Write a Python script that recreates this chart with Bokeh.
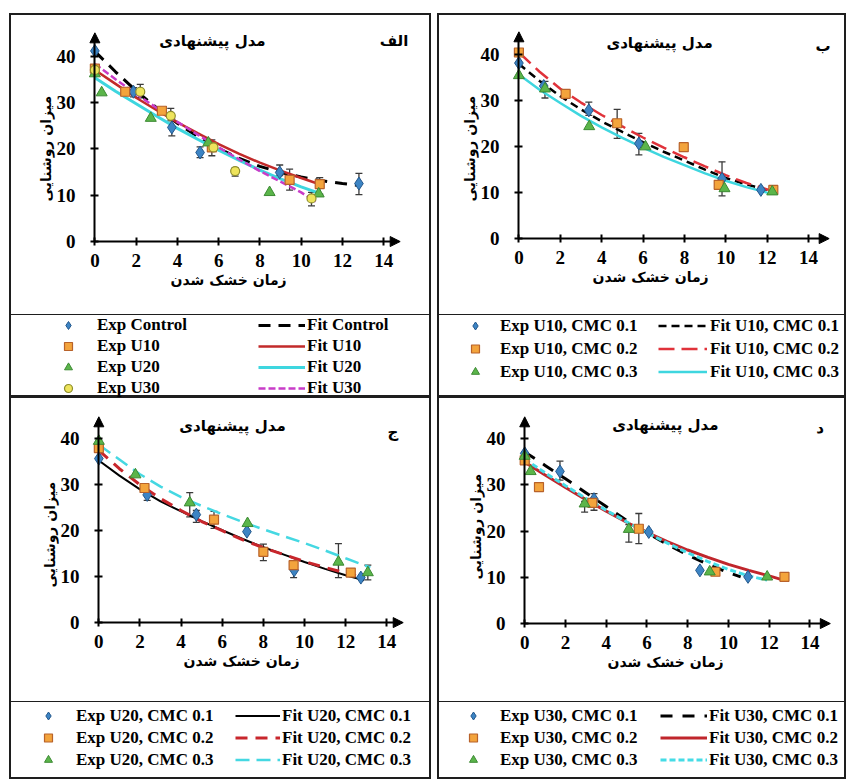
from bokeh.plotting import figure
from bokeh.models import (ColumnDataSource, Whisker, TeeHead, Arrow, NormalHead, Title,
                          Label, Legend, LegendItem, Range1d, Spacer, LinearAxis, FixedTicker)
from bokeh.layouts import row, column
from bokeh.embed import file_html
from bokeh.resources import INLINE

SERIF = "Liberation Serif"
PERSIAN = "DejaVu Sans"

TITLE_TEXT = "مدل پیشنهادی"
X_LABEL = "زمان خشک شدن"
Y_LABEL = "میزان روشنایی"
X_TICKS = [0, 2, 4, 6, 8, 10, 12, 14]
Y_TICKS = [0, 10, 20, 30, 40]

# ---------------- Panel الف ----------------
a_letter = "الف"
a_exp_labels = ["Exp Control", "Exp U10", "Exp U20", "Exp U30"]
a_fit_labels = ["Fit Control", "Fit U10", "Fit U20", "Fit U30"]
a_ctrl_x = [0, 1.87, 3.73, 5.1, 8.96, 12.8]
a_ctrl_y = [41.1, 32.3, 24.6, 19.2, 14.9, 12.5]
a_u10_x = [0, 1.47, 3.25, 5.67, 9.44, 10.9]
a_u10_y = [37.3, 32.3, 28.2, 20.3, 13.3, 12.4]
a_u20_x = [0, 0.33, 2.71, 5.5, 8.47, 10.85]
a_u20_y = [36.2, 32.1, 26.6, 21.3, 10.6, 10.3]
a_u30_x = [0, 2.2, 3.68, 5.75, 6.8, 10.5]
a_u30_y = [37.0, 32.3, 27.1, 20.3, 15.2, 9.3]
a_fit_ctrl_x = [0, 1, 2, 3, 4, 5, 6, 7, 8, 9, 10, 11, 12, 12.8]
a_fit_ctrl_y = [41, 36.6, 32.5, 28.8, 25.5, 22.6, 20.1, 17.9, 16.2, 14.9, 13.9, 13.1, 12.5, 12.1]
a_fit_u10_x = [0, 1, 2, 3, 4, 5, 6, 7, 8, 9, 10, 11]
a_fit_u10_y = [37, 34, 31, 28.3, 25.7, 23.3, 21, 18.9, 17, 15.3, 13.7, 12.2]
a_fit_u20_x = [0, 1, 2, 3, 4, 5, 6, 7, 8, 9, 10, 10.9]
a_fit_u20_y = [35.3, 32.4, 29.7, 27, 24.4, 22, 19.7, 17.5, 15.4, 13.5, 11.8, 10.4]
a_fit_u30_x = [0, 1, 2, 3, 4, 5, 6, 7, 8, 9, 10, 10.7]
a_fit_u30_y = [38.3, 35, 31.8, 28.8, 25.8, 23, 20.3, 17.7, 15.2, 12.9, 10.6, 8.6]
a_err_x = [1.87, 2.2, 3.68, 3.73, 5.1, 5.67, 6.8, 8.96, 9.44, 10.5, 10.9, 12.8]
a_err_lo = [31.2, 31.0, 26.0, 22.8, 18.1, 18.5, 14.1, 14.2, 11.1, 7.7, 10.2, 10.1]
a_err_hi = [33.2, 33.9, 28.7, 26.4, 20.4, 21.9, 15.9, 16.5, 15.6, 10.6, 13.8, 14.7]

# ---------------- Panel ب ----------------
b_letter = "ب"
b_exp_labels = ["Exp U10, CMC 0.1", "Exp U10, CMC 0.2", "Exp U10, CMC 0.3"]
b_fit_labels = ["Fit U10, CMC 0.1", "Fit U10, CMC 0.2", "Fit U10, CMC 0.3"]
b_c1_x = [0, 1.2, 3.38, 5.8, 9.82, 11.7]
b_c1_y = [38.2, 33.2, 27.9, 20.7, 13.0, 10.6]
b_c2_x = [0, 2.26, 4.75, 7.97, 9.66, 12.3]
b_c2_y = [40.5, 31.5, 25.1, 19.9, 11.7, 10.6]
b_c3_x = [0, 1.26, 3.4, 6.12, 9.94, 12.25]
b_c3_y = [35.5, 32.6, 24.4, 20.0, 10.9, 10.2]
b_fit1_x = [0, 1, 2, 3, 4, 5, 6, 7, 8, 9, 10, 11, 12]
b_fit1_y = [38, 34.3, 31, 28.1, 25.5, 23.2, 21, 18.9, 17, 15, 13.2, 11.8, 10.6]
b_fit2_x = [0, 1, 2, 3, 4, 5, 6, 7, 8, 9, 10, 11, 12, 12.2]
b_fit2_y = [40.5, 36.3, 32.6, 29.6, 26.9, 24.4, 22, 19.8, 17.7, 15.7, 13.8, 12.1, 10.7, 10.4]
b_fit3_x = [0, 1, 2, 3, 4, 5, 6, 7, 8, 9, 10, 11, 12, 12.2]
b_fit3_y = [35.7, 32.4, 29.5, 26.7, 24.2, 21.9, 19.8, 17.8, 16, 14.2, 12.6, 11.2, 10, 9.8]
b_err_x = [1.26, 3.38, 4.75, 5.8, 9.82]
b_err_lo = [30.6, 26.8, 21.8, 18.2, 9.3]
b_err_hi = [34.2, 29.7, 28.1, 22.9, 16.7]

# ---------------- Panel ج ----------------
c_letter = "ج"
c_exp_labels = ["Exp U20, CMC 0.1", "Exp U20, CMC 0.2", "Exp U20, CMC 0.3"]
c_fit_labels = ["Fit U20, CMC 0.1", "Fit U20, CMC 0.2", "Fit U20, CMC 0.3"]
c_c1_x = [0, 2.35, 4.74, 7.2, 9.5, 12.74]
c_c1_y = [35.7, 27.8, 23.5, 19.8, 11.4, 9.8]
c_c2_x = [0, 2.22, 5.6, 8.0, 9.47, 12.25]
c_c2_y = [38.0, 29.3, 22.4, 15.4, 12.5, 10.9]
c_c3_x = [0, 1.78, 4.42, 7.23, 11.65, 13.08]
c_c3_y = [39.5, 32.2, 26.1, 21.6, 13.2, 10.9]
c_fit1_x = [0, 1, 2, 3, 4, 5, 6, 7, 8, 9, 10, 11, 12, 12.9]
c_fit1_y = [35.3, 32, 29, 26.4, 24.2, 22.1, 20.1, 18.2, 16.4, 14.8, 13.2, 11.7, 10.3, 9.2]
c_fit2_x = [0, 1, 2, 3, 4, 5, 6, 7, 8, 9, 10, 11, 12, 12.5]
c_fit2_y = [37.5, 33.5, 30, 27, 24.4, 22, 20, 18, 16.3, 14.8, 13.3, 12, 10.8, 10.2]
c_fit3_x = [0, 1, 2, 3, 4, 5, 6, 7, 8, 9, 10, 11, 12, 13.2]
c_fit3_y = [38.7, 35.5, 32.3, 29.6, 27.3, 25.4, 23.6, 21.9, 20.3, 18.8, 17.3, 15.7, 14.0, 12.0]
c_err_x = [2.35, 4.42, 4.74, 5.6, 8.0, 9.47, 11.65, 13.08]
c_err_lo = [26.6, 23.0, 21.8, 20.5, 13.5, 9.8, 9.8, 9.3]
c_err_hi = [28.5, 28.3, 24.4, 24.2, 17.1, 13.1, 17.2, 12.5]

# ---------------- Panel د ----------------
d_letter = "د"
d_exp_labels = ["Exp U30, CMC 0.1", "Exp U30, CMC 0.2", "Exp U30, CMC 0.3"]
d_fit_labels = ["Fit U30, CMC 0.1", "Fit U30, CMC 0.2", "Fit U30, CMC 0.3"]
d_c1_x = [0, 1.73, 3.4, 6.09, 8.6, 10.96]
d_c1_y = [36.8, 32.9, 26.9, 19.8, 11.5, 10.1]
d_c2_x = [0, 0.7, 3.32, 5.6, 9.36, 12.75]
d_c2_y = [35.3, 29.5, 26.1, 20.5, 11.2, 10.1]
d_c3_x = [0, 0.29, 2.94, 5.11, 9.08, 11.9]
d_c3_y = [36.2, 32.9, 25.9, 20.4, 11.2, 10.1]
d_fit1_x = [0, 1, 2, 3, 4, 5, 6, 7, 8, 9, 10, 10.6]
d_fit1_y = [37.1, 34.2, 31.3, 28.3, 25.3, 22.3, 19.6, 17.1, 14.8, 12.8, 11.0, 10.1]
d_fit2_x = [0, 1, 2, 3, 4, 5, 6, 7, 8, 9, 10, 11, 12, 12.7]
d_fit2_y = [34.9, 32.1, 29.4, 26.8, 24.3, 21.9, 19.7, 17.7, 15.9, 14.3, 12.8, 11.5, 10.3, 9.4]
d_fit3_x = [0, 1, 2, 3, 4, 5, 6, 7, 8, 9, 10, 11, 11.9]
d_fit3_y = [35.5, 32.6, 29.8, 27.1, 24.5, 22, 19.6, 17.4, 15.3, 13.4, 11.7, 10.3, 9.4]
d_err_x = [1.73, 2.94, 3.4, 5.11, 5.6]
d_err_lo = [31.0, 24.1, 24.5, 17.6, 17.3]
d_err_hi = [35.1, 26.4, 28.1, 21.4, 23.8]

# ---------------- styles ----------------
MK = [
    dict(marker="diamond", size=13, fill_color="#3C84C4", line_color="#24588C", line_width=1),
    dict(marker="square", size=9, fill_color="#F3A43C", line_color="#B8622A", line_width=1.2),
    dict(marker="triangle", size=11, fill_color="#5BB54A", line_color="#3C8A33", line_width=1),
    dict(marker="circle", size=9, fill_color="#EEE45C", line_color="#8E8E2C", line_width=1.2),
]
CYAN = "#3ED6DF"
A_FIT_ST = [dict(line_color="black", line_width=3, line_dash="12 8"),
            dict(line_color="#C22A2A", line_width=2.5),
            dict(line_color=CYAN, line_width=3),
            dict(line_color="#C83CC8", line_width=2.5, line_dash="7 3")]
B_FIT_ST = [dict(line_color="black", line_width=2.5, line_dash="8 5"),
            dict(line_color="#E0323A", line_width=2.5, line_dash="16 7"),
            dict(line_color=CYAN, line_width=2.5)]
C_FIT_ST = [dict(line_color="black", line_width=2),
            dict(line_color="#C8262C", line_width=3, line_dash="12 8"),
            dict(line_color="#45D8E2", line_width=2.5, line_dash="14 7")]
D_FIT_ST = [dict(line_color="black", line_width=3, line_dash="12 10"),
            dict(line_color="#C0262C", line_width=3),
            dict(line_color="#45DCE6", line_width=3, line_dash="6 3")]

EDGE = "#1e1e1e"
PFONT = dict(text_font=PERSIAN, text_font_style="bold", text_font_size="14px", text_color="black")


def box_css(top, bottom):
    sh = [f"inset 2px 0 0 0 {EDGE}", f"inset -2px 0 0 0 {EDGE}"]
    if top:
        sh.append(f"inset 0 {top}px 0 0 {EDGE}")
    if bottom:
        sh.append(f"inset 0 -{bottom}px 0 0 {EDGE}")
    return {"box-shadow": ", ".join(sh)}


def chart(W, H, mb, xr, yr, xb, yb, exps, fits, fit_st, err, title_xy, letter, letter_xy,
          top_edge, xt, yt):
    p = figure(width=W, height=H, x_range=Range1d(*xr), y_range=Range1d(*yr),
               toolbar_location=None, output_backend="svg",
               min_border_left=mb[0], min_border_right=mb[1],
               min_border_top=mb[2], min_border_bottom=mb[3])
    p.grid.visible = False
    p.outline_line_color = None
    p.border_fill_alpha = 0
    p.background_fill_alpha = 0
    p.styles = box_css(top_edge, 1)
    # tick-label axes at the frame edges
    for ax in (p.xaxis[0], p.yaxis[0]):
        ax.axis_line_color = None
        ax.major_tick_line_color = None
        ax.minor_tick_line_color = None
        ax.major_tick_in = 0
        ax.major_tick_out = 0
        ax.major_label_text_font = SERIF
        ax.major_label_text_font_style = "bold"
        ax.major_label_text_font_size = "19px"
        ax.major_label_text_color = "black"
    p.xaxis.ticker = X_TICKS
    p.yaxis.ticker = Y_TICKS
    p.xaxis.major_label_standoff = 5
    p.yaxis.major_label_standoff = 7
    # axis lines and ticks crossing at the origin (their space also spaces the axis titles)
    for place, tk, bd, gap in (("below", X_TICKS, (0, xb - 0.3), xt[1]),
                               ("left", Y_TICKS, (0, yb - 0.8), yt[1])):
        ax = LinearAxis(fixed_location=0, ticker=FixedTicker(ticks=tk), bounds=bd,
                        axis_line_width=2, axis_line_color="black",
                        major_tick_line_width=2, major_tick_line_color="black",
                        major_tick_in=4, major_tick_out=4, minor_tick_line_color=None,
                        major_label_standoff=gap,
                        major_label_text_color=None, major_label_text_font_size="1px")
        p.add_layout(ax, place)
    # axis titles
    p.add_layout(Title(text=X_LABEL, align="left", offset=xt[0], standoff=0, **PFONT), "below")
    p.add_layout(Title(text=Y_LABEL, align="left", offset=yt[0], standoff=0, **PFONT), "left")
    p.add_layout(Arrow(end=NormalHead(size=10, fill_color="black", line_color="black"),
                       x_start=xb - 0.4, y_start=0, x_end=xb, y_end=0, line_width=2))
    p.add_layout(Arrow(end=NormalHead(size=10, fill_color="black", line_color="black"),
                       x_start=0, y_start=yb - 1.5, x_end=0, y_end=yb, line_width=2))
    src = ColumnDataSource(dict(x=err[0], lo=err[1], hi=err[2]))
    w = Whisker(source=src, base="x", lower="lo", upper="hi", dimension="height",
                line_color="#3a3a3a", line_width=1.3, level="underlay",
                upper_head=TeeHead(size=7, line_color="#3a3a3a", line_width=1.3),
                lower_head=TeeHead(size=7, line_color="#3a3a3a", line_width=1.3))
    p.add_layout(w)
    for (fx, fy), st in zip(fits, fit_st):
        p.line(fx, fy, **st)
    for (ex, ey), st in zip(exps, MK):
        p.scatter(ex, ey, **st)
    p.add_layout(Label(x=title_xy[0], y=title_xy[1], text=TITLE_TEXT, text_align="center",
                       text_baseline="middle", text_font=PERSIAN, text_font_style="bold",
                       text_font_size="15px", text_color="black"))
    p.add_layout(Label(x=letter_xy[0], y=letter_xy[1], text=letter, text_align="center",
                       text_baseline="middle", text_font=PERSIAN, text_font_style="bold",
                       text_font_size="15px", text_color="black"))
    return p


def legend_fig(W, H, exps, fits, fit_st, exp_labels, fit_labels, exp_loc, fit_loc,
               exp_standoff, fit_gw, fit_standoff, row_h, spacing):
    p = figure(width=W, height=H, x_range=Range1d(100, 101), y_range=Range1d(100, 101),
               toolbar_location=None, output_backend="svg", min_border=0,
               x_axis_location=None, y_axis_location=None)
    p.grid.visible = False
    p.outline_line_color = None
    p.border_fill_alpha = 0
    p.background_fill_alpha = 0
    p.styles = box_css(0, 2)
    er = [p.scatter(ex, ey, **st) for (ex, ey), st in zip(exps, MK)]
    fr = [p.line(fx, fy, **st) for (fx, fy), st in zip(fits, fit_st)]
    common = dict(orientation="vertical", padding=0, margin=0, border_line_color=None,
                  background_fill_alpha=0, label_text_font=SERIF,
                  label_text_font_style="bold", label_text_font_size="17px",
                  label_text_color="black", glyph_height=row_h, label_height=row_h,
                  spacing=spacing)
    p.add_layout(Legend(items=[LegendItem(label=l, renderers=[r]) for l, r in zip(exp_labels, er)],
                        location=exp_loc, glyph_width=20, label_standoff=exp_standoff, **common))
    p.add_layout(Legend(items=[LegendItem(label=l, renderers=[r]) for l, r in zip(fit_labels, fr)],
                        location=fit_loc, glyph_width=fit_gw, label_standoff=fit_standoff, **common))
    return p


a_exps = [(a_ctrl_x, a_ctrl_y), (a_u10_x, a_u10_y), (a_u20_x, a_u20_y), (a_u30_x, a_u30_y)]
a_fits = [(a_fit_ctrl_x, a_fit_ctrl_y), (a_fit_u10_x, a_fit_u10_y),
          (a_fit_u20_x, a_fit_u20_y), (a_fit_u30_x, a_fit_u30_y)]
b_exps = [(b_c1_x, b_c1_y), (b_c2_x, b_c2_y), (b_c3_x, b_c3_y)]
b_fits = [(b_fit1_x, b_fit1_y), (b_fit2_x, b_fit2_y), (b_fit3_x, b_fit3_y)]
c_exps = [(c_c1_x, c_c1_y), (c_c2_x, c_c2_y), (c_c3_x, c_c3_y)]
c_fits = [(c_fit1_x, c_fit1_y), (c_fit2_x, c_fit2_y), (c_fit3_x, c_fit3_y)]
d_exps = [(d_c1_x, d_c1_y), (d_c2_x, d_c2_y), (d_c3_x, d_c3_y)]
d_fits = [(d_fit1_x, d_fit1_y), (d_fit2_x, d_fit2_y), (d_fit3_x, d_fit3_y)]

pa = chart(422, 302, (73, 21, 17, 67), (-0.6, 15.3), (-1.5, 45.5), 14.8, 45.0,
           a_exps, a_fits, A_FIT_ST, (a_err_x, a_err_lo, a_err_hi), (5.7, 43.3), a_letter, (14.5, 43.3),
           2, (88, 8), (47, 12))
pb = chart(409, 302, (69, 7, 16, 70), (-0.6, 15.5), (-1.5, 45.5), 15.0, 45.0,
           b_exps, b_fits, B_FIT_ST, (b_err_x, b_err_lo, b_err_hi), (6.8, 42.5), b_letter, (14.7, 42.0),
           2, (86, 12), (44, 11))
pc = chart(422, 305, (77, 18, 17, 73), (-0.6, 15.3), (-1.5, 45.3), 14.8, 44.8,
           c_exps, c_fits, C_FIT_ST, (c_err_x, c_err_lo, c_err_hi), (6.5, 42.9), c_letter, (14.3, 41.4),
           1, (97, 15), (42, 13))
pd_ = chart(409, 305, (75, 6, 17, 72), (-0.6, 15.5), (-1.5, 45.2), 15.0, 44.7,
            d_exps, d_fits, D_FIT_ST, (d_err_x, d_err_lo, d_err_hi), (6.9, 42.9), d_letter, (14.5, 42.2),
            1, (95, 17), (51, 12))

la = legend_fig(422, 82, a_exps, a_fits, A_FIT_ST, a_exp_labels, a_fit_labels,
                (49, -1), (249, -1), 19, 47, 2, 20, 1)
lb = legend_fig(409, 82, b_exps, b_fits, B_FIT_ST, b_exp_labels, b_fit_labels,
                (28, 15), (221, 15), 15, 49, 3, 21, 2)
lc = legend_fig(422, 77, c_exps, c_fits, C_FIT_ST, c_exp_labels, c_fit_labels,
                (29, 9), (226, 9), 18, 45, 2, 21, 1)
ld = legend_fig(409, 77, d_exps, d_fits, D_FIT_ST, d_exp_labels, d_fit_labels,
                (26, 9), (223, 9), 17, 47, 2, 21, 1)

left_col = column(column(pa), column(la), column(pc), column(lc))
right_col = column(column(pb), column(lb), column(pd_), column(ld))
layout = column(Spacer(height=13), row(Spacer(width=9), left_col, Spacer(width=6), right_col))

open("out.html", "w").write(file_html(layout, INLINE))
